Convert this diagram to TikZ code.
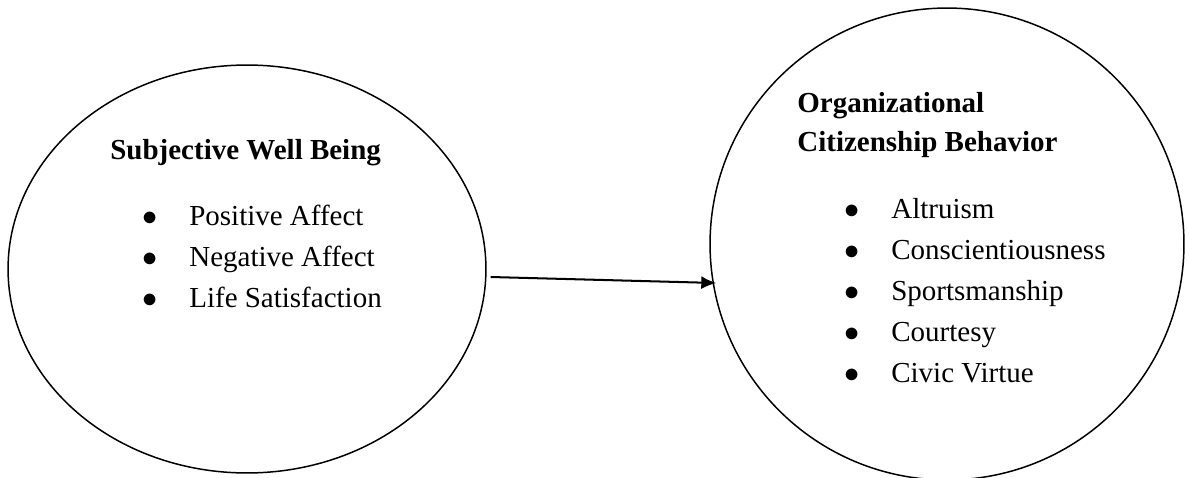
\documentclass[tikz,border=0pt]{standalone}
\usepackage{fontspec}
\setmainfont{Liberation Serif}
\usetikzlibrary{shapes.geometric,arrows.meta,positioning}

\newcommand{\itm}[1]{\makebox[0.94cm][l]{$\bullet$}#1}

\begin{document}
\begin{tikzpicture}[x=0.02cm, y=-0.02cm, >={Latex[length=0.3cm,width=0.26cm]}, node distance=0.82cm]
	\tikzstyle{blob} = [draw, ellipse, line width=0.85pt, inner sep=0pt]
	\tikzstyle{head} = [anchor=base west, inner sep=0pt, font=\fontsize{16.5}{20}\selectfont\bfseries]
	\tikzstyle{item} = [anchor=base west, inner sep=0pt, font=\fontsize{16.5}{20}\selectfont]
	\useasboundingbox (0,0) rectangle (1189,477);
	% the two ellipses
	\node[blob, minimum width=9.56cm, minimum height=8.16cm] (swb) at (247,269) {};
	\node[blob, minimum width=9.48cm, minimum height=9.44cm] (ocb) at (947,244) {};
	% subjective well being
	\node[head] (swbh) at (110,159) {Subjective Well Being};
	\node[below=1.34cm of swbh.base west, item, xshift=0.64cm] (s1) {\itm{Positive Affect}};
	\node[below=of s1.base west, item] (s2) {\itm{Negative Affect}};
	\node[below=of s2.base west, item] (s3) {\itm{Life Satisfaction}};
	% organizational citizenship behavior
	\node[head] (ocbh1) at (797,112) {Organizational};
	\node[below=0.8cm of ocbh1.base west, head] (ocbh2) {Citizenship Behavior};
	\node[below=1.33cm of ocbh2.base west, item, xshift=0.94cm] (o1) {\itm{Altruism}};
	\node[below=of o1.base west, item] (o2) {\itm{Conscientiousness}};
	\node[below=of o2.base west, item] (o3) {\itm{Sportsmanship}};
	\node[below=of o3.base west, item] (o4) {\itm{Courtesy}};
	\node[below=of o4.base west, item] (o5) {\itm{Civic Virtue}};
	% arrow
	\draw[->, line width=1.15pt] ([shift={(4,8)}]swb.east) -- ([shift={(7,39)}]ocb.west);
\end{tikzpicture}
\end{document}
